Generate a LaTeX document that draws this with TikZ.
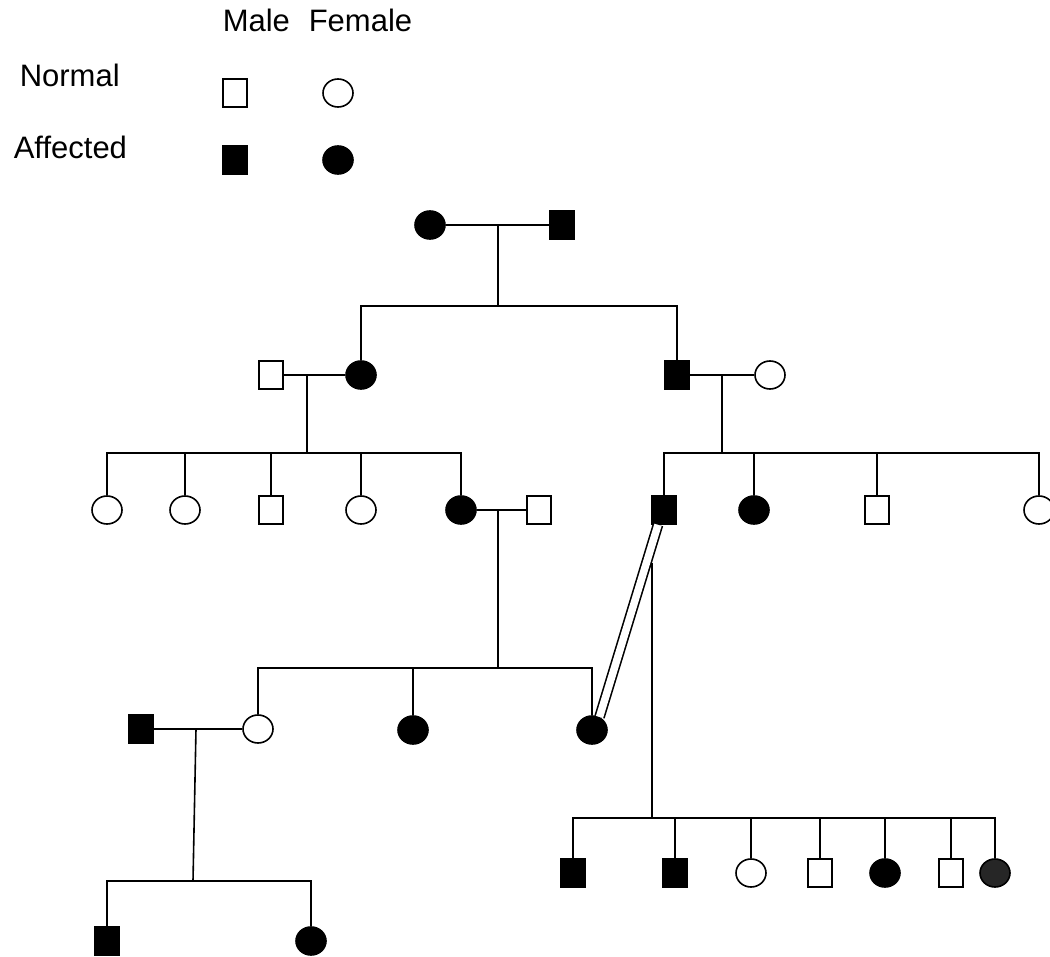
\documentclass[tikz,border=0pt]{standalone}
\usepackage{fontspec}
\setmainfont{Liberation Sans}
\usetikzlibrary{shapes.geometric}

\begin{document}
\begin{tikzpicture}[
    x=1pt, y=-1pt,
    line width=1.6pt,
    male/.style={draw, rectangle, inner sep=0pt, minimum width=24pt, minimum height=28pt},
    female/.style={draw, ellipse, inner sep=0pt, minimum width=30pt, minimum height=28pt},
    aff/.style={fill=black},
    legendtext/.style={inner sep=0pt, anchor=base west, font=\fontsize{31}{37}\selectfont}
]
  \useasboundingbox (0,0) rectangle (1050,957);
  % legend
  \node[legendtext] (lmale) at (222,32) {Male};
  \node[legendtext] (lfemale) at (308,32) {Female};
  \node[legendtext] (lnormal) at (19,87) {Normal};
  \node[legendtext] (laffected) at (13,159) {Affected};
  \node[male] (lm) at (235,93) {};
  \node[female] (lf) at (338,93) {};
  \node[male, aff] (lma) at (235,160) {};
  \node[female, aff] (lfa) at (338,160) {};

  % generation I and II
  \node[female, aff] (i1) at (430,225) {};
  \node[male, aff] (i2) at (562,225) {};
  \node[male] (ii1) at (271,375) {};
  \node[female, aff] (ii2) at (361,375) {};
  \node[male, aff] (ii3) at (677,375) {};
  \node[female] (ii4) at (770,375) {};

  % generation III
  \node[female] (iii1) at (107,510) {};
  \node[female] (iii2) at (185,510) {};
  \node[male] (iii3) at (271,510) {};
  \node[female] (iii4) at (361,510) {};
  \node[female, aff] (iii5) at (461,510) {};
  \node[male] (iii6) at (539,510) {};
  \node[male, aff] (iii7) at (664,510) {};
  \node[female, aff] (iii8) at (754,510) {};
  \node[male] (iii9) at (877,510) {};
  \node[female] (iii10) at (1039,510) {};

  % generation IV
  \node[male, aff] (iv1) at (141,729) {};
  \node[female] (iv2) at (258,729) {};
  \node[female, aff] (iv3) at (413,730) {};
  \node[female, aff] (iv4) at (592,730) {};

  % generation V
  \node[male, aff] (v1) at (573,873) {};
  \node[male, aff] (v2) at (675,873) {};
  \node[female] (v3) at (751,873) {};
  \node[male] (v4) at (820,873) {};
  \node[female, aff] (v5) at (885,873) {};
  \node[male] (v6) at (951,873) {};
  \node[female, fill=black!85] (v7) at (995,873) {};
  \node[male, aff] (v8) at (107,941) {};
  \node[female, aff] (v9) at (311,941) {};

  \coordinate (m1) at (498,225);
  \coordinate (s1) at (498,306);
  \coordinate (m2) at (307,375);
  \coordinate (s2) at (307,453);
  \coordinate (m3) at (722,375);
  \coordinate (s3) at (722,453);
  \coordinate (m4) at (498,510);
  \coordinate (s4) at (498,668);
  \coordinate (m5) at (196,729);
  \coordinate (s5) at (193,881);
  \coordinate (m6) at (652,563);
  \coordinate (s6) at (652,818);

  \draw (i1) -- (i2);
  \draw (m1) -- (s1);
  \draw (ii2.north) |- (s1) -| (ii3.north);

  \draw (ii1) -- (ii2);
  \draw (m2) -- (s2);
  \draw (iii1.north) |- (s2) -| (iii5.north);
  \foreach \n in {iii2,iii3,iii4}
    \draw (\n.north) -- (\n.north |- s2);

  \draw (ii3) -- (ii4);
  \draw (m3) -- (s3);
  \draw (iii7.north) |- (s3) -| (iii10.north);
  \foreach \n in {iii8,iii9}
    \draw (\n.north) -- (\n.north |- s3);

  \draw (iii5) -- (iii6);
  \draw (m4) -- (s4);
  \draw (iv2.north) |- (s4) -| (iv4.north);
  \draw (iv3.north) -- (iv3.north |- s4);

  \draw (iv1) -- (iv2);
  \draw (m5) -- (s5);
  \draw (v8.north) |- (s5) -| (v9.north);

  % consanguineous union
  \draw[double, double distance=7.5pt, line width=1.6pt] ([xshift=-6pt]iii7.south) -- (iv4.60);
  \draw (m6) -- (s6);
  \draw (v1.north) |- (s6) -| (v7.north);
  \foreach \n in {v2,v3,v4,v5,v6}
    \draw (\n.north) -- (\n.north |- s6);
\end{tikzpicture}
\end{document}
